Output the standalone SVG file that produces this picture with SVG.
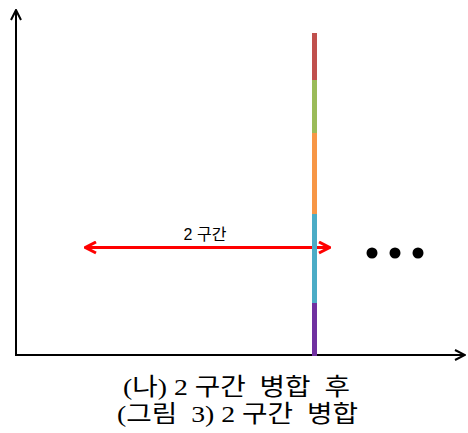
<svg xmlns="http://www.w3.org/2000/svg" width="468" height="433" viewBox="0 0 468 433">
<style>
.axis{stroke:#000;stroke-width:2;fill:none}
.cap{font-family:"Liberation Serif","Noto Sans CJK KR",serif;font-size:24px;fill:#000;white-space:pre}
.lbl{font-family:"Liberation Sans","Noto Sans CJK KR",sans-serif;font-size:16px;fill:#000}
</style>
<defs>
<marker id="ah" viewBox="0 0 12 12" refX="11" refY="6" markerWidth="12" markerHeight="12" markerUnits="userSpaceOnUse" orient="auto-start-reverse">
<path d="M1,1 L11,6 L1,11" fill="none" stroke="#000" stroke-width="2"/>
</marker>
<marker id="rh" viewBox="0 0 14 14" refX="13" refY="7" markerWidth="14" markerHeight="14" markerUnits="userSpaceOnUse" orient="auto-start-reverse">
<path d="M2,1.5 L12.5,7 L2,12.5" fill="none" stroke="#f00" stroke-width="3"/>
</marker>
</defs>
<rect width="468" height="433" fill="#fff"/>
<g id="connectors">
<line class="axis" x1="16" y1="356" x2="16" y2="10" marker-end="url(#ah)"/>
<line class="axis" x1="16" y1="355" x2="465" y2="355" marker-end="url(#ah)"/>
<line x1="85" y1="247.5" x2="330" y2="247.5" stroke="#f00" stroke-width="3" marker-start="url(#rh)" marker-end="url(#rh)"/>
</g>
<g id="bar">
<rect x="312" y="33" width="5" height="47" fill="#c0504d"/>
<rect x="312" y="80" width="5" height="53" fill="#9bbb59"/>
<rect x="312" y="133" width="5" height="81" fill="#f79646"/>
<rect x="312" y="214" width="5" height="89" fill="#4bacc6"/>
<rect x="312" y="303" width="5" height="53" fill="#7030a0"/>
</g>
<g id="label">
<text class="lbl" x="205" y="240" text-anchor="middle">2 구간</text>
</g>
<g id="dots">
<circle cx="372" cy="253" r="5.5"/>
<circle cx="395" cy="253" r="5.5"/>
<circle cx="418" cy="253" r="5.5"/>
</g>
<g id="caption">
<text class="cap" x="123" y="395" textLength="227" lengthAdjust="spacingAndGlyphs" xml:space="preserve">(나) 2 구간  병합  후</text>
<text class="cap" x="117" y="422" textLength="241" lengthAdjust="spacingAndGlyphs" xml:space="preserve">(그림  3) 2 구간  병합</text>
</g>
</svg>
